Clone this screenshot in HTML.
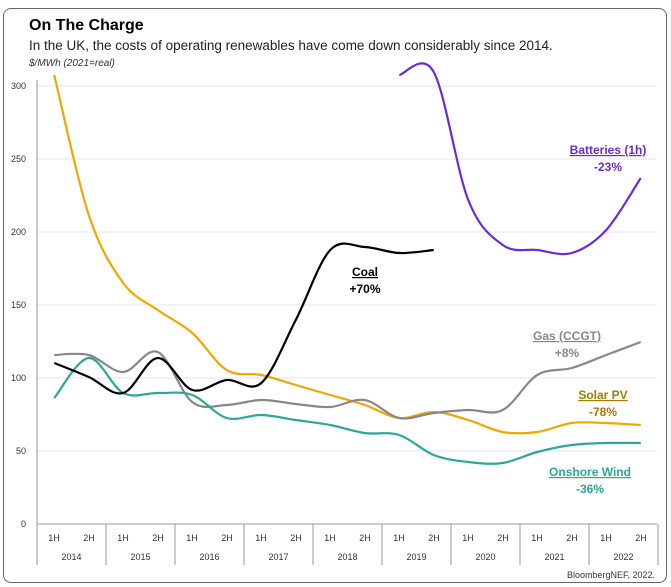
<!DOCTYPE html>
<html><head><meta charset="utf-8"><style>
body{margin:0;background:#fff;font-family:"Liberation Sans",sans-serif;}
.f{position:absolute;left:3px;top:8px;width:662px;height:573px;border:1.5px solid #666;border-radius:8px;}
</style></head><body>
<div style="position:relative;width:671px;height:587px;overflow:hidden">
<div class="f"></div>
<svg id="s" width="671" height="587" style="position:absolute;left:0;top:0" font-family="Liberation Sans, sans-serif">
<text x="29" y="30" font-size="16" font-weight="bold">On The Charge</text>
<text x="29" y="50" font-size="13.5" fill="#222">In the UK, the costs of operating renewables have come down considerably since 2014.</text>
<text x="29" y="66" font-size="10" font-style="italic" fill="#333">$/MWh (2021=real)</text>
<g stroke="#e6e6e6" stroke-width="1">
<line x1="37" x2="657" y1="86" y2="86"/><line x1="37" x2="657" y1="159" y2="159"/><line x1="37" x2="657" y1="232" y2="232"/><line x1="37" x2="657" y1="305" y2="305"/><line x1="37" x2="657" y1="378" y2="378"/><line x1="37" x2="657" y1="451" y2="451"/>
</g>
<line x1="37" x2="37" y1="80" y2="565" stroke="#999"/>
<line x1="37" x2="657" y1="524" y2="524" stroke="#999"/>
<g font-size="9" fill="#333" text-anchor="end">
<text x="26" y="89">300</text><text x="26" y="162">250</text><text x="26" y="235">200</text><text x="26" y="308">150</text><text x="26" y="381">100</text><text x="26" y="454">50</text><text x="26" y="527">0</text>
</g>
<g id="ax" font-size="9" fill="#333" text-anchor="middle"></g>
<g id="ln" fill="none" stroke-width="2.2"></g>
<g font-size="12" font-weight="bold" text-anchor="middle">
<text x="608" y="154" fill="#6a2bd9" text-decoration="underline">Batteries (1h)</text><text x="608" y="171" fill="#6a2bd9">-23%</text>
<text x="365" y="276" fill="#000" text-decoration="underline">Coal</text><text x="365" y="293" fill="#000">+70%</text>
<text x="567" y="340" fill="#888" text-decoration="underline">Gas (CCGT)</text><text x="567" y="357" fill="#888">+8%</text>
<text x="603" y="399" fill="#a07c00" text-decoration="underline">Solar PV</text><text x="603" y="416" fill="#a07c00">-78%</text>
<text x="590" y="476" fill="#2aa89a" text-decoration="underline">Onshore Wind</text><text x="590" y="493" fill="#2aa89a">-36%</text>
</g>
<text x="655" y="578" font-size="9" fill="#333" text-anchor="end">BloombergNEF, 2022.</text>
</svg>
<script>
var ax=document.getElementById('ax'),ns='http://www.w3.org/2000/svg',h='';
for(var y=0;y<9;y++){var x0=37+69*y;
h+='<line x1="'+(x0+69)+'" x2="'+(x0+69)+'" y1="524" y2="565" stroke="#999"/>';
h+='<text x="'+(x0+17)+'" y="541">1H</text><text x="'+(x0+52)+'" y="541">2H</text><text x="'+(x0+34.5)+'" y="560">'+(2014+y)+'</text>';}
ax.innerHTML=h;
function X(i){return 54.25+34.5*i;}
function path(a,s){var p=a.map(function(v,i){return [X(i+s),v]}).filter(function(q){return q[1]!=null});
var d='M'+p[0][0]+','+p[0][1];
for(var i=0;i<p.length-1;i++){var p0=p[i-1]||p[i],p1=p[i],p2=p[i+1],p3=p[i+2]||p2;
d+=' C'+(p1[0]+(p2[0]-p0[0])/6)+','+(p1[1]+(p2[1]-p0[1])/6)+' '+(p2[0]-(p3[0]-p1[0])/6)+','+(p2[1]-(p3[1]-p1[1])/6)+' '+p2[0]+','+p2[1];}
return d;}
var S=[
['#f0a800',0,[75,215,283,310,333,370,375,385,395,405,418,412,420,432,432,423,423,425]],
['#888',0,[355,355,372,352,402,405,400,404,407,400,418,413,410,410,375,368,355,342]],
['#2aa89a',0,[398,358,393,393,395,418,415,420,425,433,435,455,462,463,452,445,443,443]],
['#000',0,[363,377,393,358,390,380,383,320,250,247,253,250]],
['#6a2bd9',10,[75,72,200,245,250,253,230,178]]];
var ln=document.getElementById('ln'),g='';
S.forEach(function(s){g+='<path stroke="'+s[0]+'" d="'+path(s[2],s[1])+'"/>';});
ln.innerHTML=g;
</script>
</div></body></html>
